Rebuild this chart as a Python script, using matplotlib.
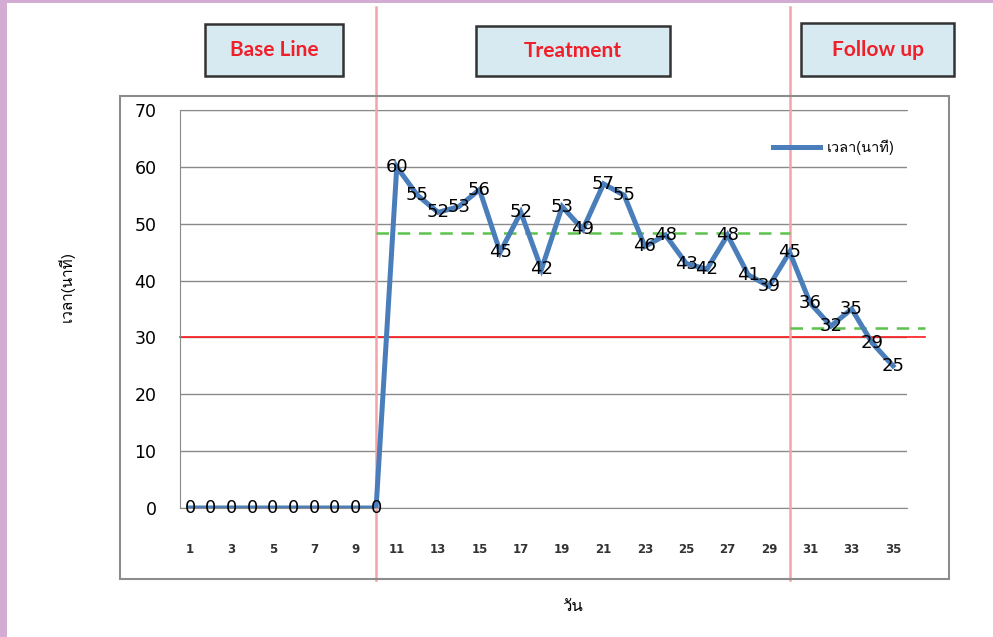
import numpy as np
import matplotlib
matplotlib.use("Agg")
import matplotlib.pyplot as plt
from matplotlib.patches import Rectangle
from matplotlib import font_manager
from matplotlib.ft2font import FT2Font

# data
days = list(range(1, 36))
minutes = [0, 0, 0, 0, 0, 0, 0, 0, 0, 0,
           60, 55, 52, 53, 56, 45, 52, 42, 53, 49,
           57, 55, 46, 48, 43, 42, 48, 41, 39, 45,
           36, 32, 35, 29, 25]
phase_names = ["Base Line", "Treatment", "Follow up"]
phase_cuts = [10, 30]
treat_mean = 48.4
follow_mean = 31.6
target = 30
series_name = "เวลา(นาที)"
x_title = "วัน"

W, H = 993, 637


def fx(x):
    return x / W


def fy(y):
    return 1 - y / H


def thai_font():
    for f in font_manager.fontManager.ttflist:
        try:
            if ord("ว") in FT2Font(f.fname).get_charmap():
                return f.name
        except Exception:
            pass
    return "DejaVu Sans"


thai = [thai_font(), "DejaVu Sans"]

fig = plt.figure(figsize=(W / 100, H / 100), dpi=100)
fig.patch.set_facecolor("white")

# purple page edge
fig.add_artist(Rectangle((0, 0), fx(7), 1, transform=fig.transFigure,
                         color="#d3acd3", lw=0))
fig.add_artist(Rectangle((0, fy(3)), 1, fy(0) - fy(3), transform=fig.transFigure,
                         color="#d3acd3", lw=0))

# outer chart frame
fig.add_artist(Rectangle((fx(120), fy(579)), fx(949) - fx(120), fy(96) - fy(579),
                         transform=fig.transFigure, fill=False,
                         edgecolor="#8c8c8c", lw=1.5))

ax = fig.add_axes([fx(180), fy(508), fx(907) - fx(180), fy(110) - fy(508)])
ax.set_facecolor("none")

ax.plot(days, minutes, color="#4a7ebb", lw=3.6, label=series_name, zorder=4,
        solid_joinstyle="miter")
for d, m in zip(days, minutes):
    ax.text(d, m, str(m), ha="center", va="center", fontsize=13,
            color="black", zorder=6)

scale = 703 / 34
ax.set_xlim(1 - 10 / scale, 35 + 14 / scale)
ax.set_ylim(0, 70)
ax.set_yticks(range(0, 71, 10))
ax.set_xticks(days[::2])
ax.yaxis.grid(True, color="#8a8a8a", lw=1)
ax.set_axisbelow(True)
ax.spines["right"].set_visible(False)
for s in ["left", "top", "bottom"]:
    ax.spines[s].set_color("#8a8a8a")
ax.tick_params(axis="y", length=0, pad=17, labelsize=12.5)
ax.tick_params(axis="x", length=0, pad=25, labelsize=8.5)
for t in ax.get_xticklabels():
    t.set_fontweight("bold")
    t.set_color("#333333")

# phase lines
for c in phase_cuts:
    ax.axvline(c, ymin=-0.182, ymax=1.26, color="#f4a3a8", lw=1.8,
               clip_on=False, zorder=3)
ax.axhline(target, xmin=0, xmax=(925 - 180) / 727, color="#ff1a1a", lw=1.2,
           clip_on=False, zorder=2)
ax.plot([phase_cuts[0], phase_cuts[1]], [treat_mean, treat_mean],
        color="#5cc24e", lw=1.8, dashes=(5, 3.5), clip_on=False, zorder=3)
ax.plot([phase_cuts[1], 1 + (925 - 190) / scale], [follow_mean, follow_mean],
        color="#5cc24e", lw=1.8, dashes=(5, 3.5), clip_on=False, zorder=3)

ax.legend(loc="center left", bbox_to_anchor=(fx(773), fy(147)),
          bbox_transform=fig.transFigure, frameon=False, borderpad=0,
          borderaxespad=0, handlelength=3.2, handletextpad=0.5,
          prop={"family": thai, "size": 10.5})

ax.set_ylabel(series_name, family=thai, fontsize=11)
ax.yaxis.set_label_coords(fx(75), fy(287), transform=fig.transFigure)
fig.text(fx(573), fy(607), x_title, family=thai, fontsize=12,
         ha="center", va="center")

# phase boxes
boxes = [(205, 24, 343, 76), (476, 26, 670, 76), (801, 23, 954, 76)]
for name, (x0, y0, x1, y1) in zip(phase_names, boxes):
    fig.add_artist(Rectangle((fx(x0), fy(y1)), fx(x1) - fx(x0), fy(y0) - fy(y1),
                             transform=fig.transFigure, facecolor="#d7eaf2",
                             edgecolor="#333333", lw=1.8))
    fig.text(fx((x0 + x1) / 2), fy((y0 + y1) / 2), name, color="#f0202a",
             fontsize=15, fontweight="bold", family="Lato",
             ha="center", va="center")

fig.savefig("out.png", dpi=100)
